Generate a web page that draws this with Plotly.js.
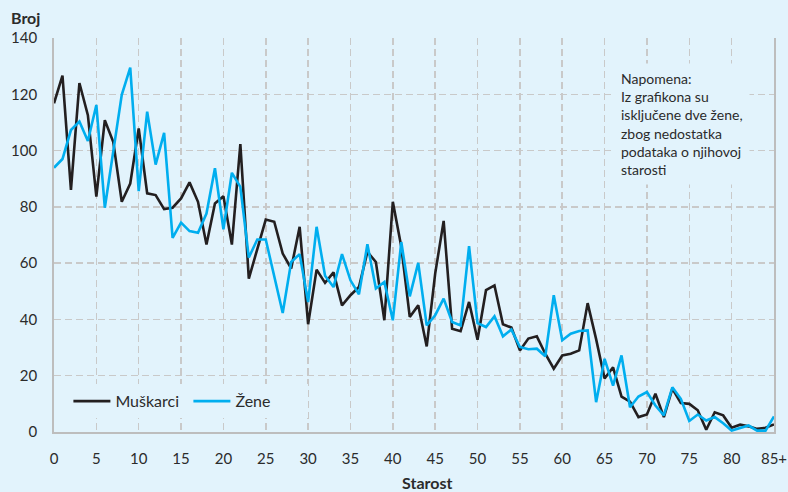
<!DOCTYPE html>
<html>
<head>
<meta charset="utf-8">
<script src="https://cdn.plot.ly/plotly-3.0.1.min.js"></script>
<style>
  html, body { margin: 0; padding: 0; background: #e2f3fc; }
  #chart { width: 788px; height: 492px; }
</style>
</head>
<body>
<div id="chart"></div>
<script>
// Age (x), 85 = "85+"
const ages = [0,1,2,3,4,5,6,7,8,9,10,11,12,13,14,15,16,17,18,19,20,21,22,23,24,25,26,27,28,29,
  30,31,32,33,34,35,36,37,38,39,40,41,42,43,44,45,46,47,48,49,50,51,52,53,54,55,56,57,58,59,
  60,61,62,63,64,65,66,67,68,69,70,71,72,73,74,75,76,77,78,79,80,81,82,83,84,85];

const muskarci = [116.8,126.6,86,124,112.6,83.6,110.8,103,81.8,88.3,107.9,84.8,84.2,79.2,79.7,83,88.7,81.8,66.6,81.2,
  83.8,66.6,102.3,54.5,65,75.5,74.7,63.4,58.1,72.9,38.3,57.7,53,56.7,45,48.6,51.5,64,60.4,39.7,
  81.8,65.8,40.9,45,30.4,56.3,75,36.7,35.8,46.2,32.8,50.4,52.1,38.3,37.1,29,33.2,34,27.8,22.5,
  27.2,27.8,29,45.8,33,19,23,12.6,10.8,5.3,6.2,13.6,5.3,15.4,10.3,10,7.7,0.8,7,5.9,
  1.5,2.6,2,1.1,1.5,2.7];

const zene = [93.9,97,107.3,110.3,103.4,116.2,79.7,100,119.8,129.5,85.6,113.8,95,106.3,69,74.4,71.4,70.8,77.6,93.7,
  72,92.1,87.1,62,68.4,68.4,55.1,42.3,60.4,63.2,46.2,72.9,55.5,51.5,63.2,53.9,48.9,66.7,51,53.3,
  39.7,67.5,48.2,60.1,37.9,41.5,47.4,39.1,37.9,66,38.7,37.3,41.1,34,36.4,30.2,29.4,29.6,26.9,48.6,
  32.6,34.9,35.9,36.1,10.6,26,16.5,27.2,8.8,12.6,14.2,9.4,5.9,15.9,11.8,3.9,6.2,4.1,5.3,3.1,
  0.5,1.5,2.3,0.5,0.5,5.5];

const xTickVals = [0,5,10,15,20,25,30,35,40,45,50,55,60,65,70,75,80,85];
const xTickText = ['0','5','10','15','20','25','30','35','40','45','50','55','60','65','70','75','80','85+'];
const yTickVals = [0,20,40,60,80,100,120,140];

const seriesNames = ['Muškarci', 'Žene'];
const noteText = 'Napomena:<br>Iz grafikona su<br>isključene dve žene,<br>zbog nedostatka<br>podataka o njihovoj<br>starosti';

const BG = '#e2f3fc';
const GRID = '#c9c9c9';
const TXT = '#2b2b2b';
const FONT = 'Lato, "Open Sans", sans-serif';

const traces = [
  { x: ages, y: muskarci, name: seriesNames[0], type: 'scatter', mode: 'lines',
    line: { color: '#231f20', width: 2.6 } },
  { x: ages, y: zene, name: seriesNames[1], type: 'scatter', mode: 'lines',
    line: { color: '#00aeef', width: 2.6 } }
];

const layout = {
  width: 788, height: 492,
  paper_bgcolor: BG, plot_bgcolor: BG,
  margin: { l: 54, r: 14, t: 38, b: 60, pad: 0 },
  font: { family: FONT, color: TXT, size: 15 },
  showlegend: true,
  legend: {
    orientation: 'h', x: 0.02, xanchor: 'left', y: 0.078, yanchor: 'middle',
    bgcolor: BG, borderwidth: 0,
    font: { family: FONT, size: 16, color: TXT },
    entrywidth: 68, entrywidthmode: 'pixels', itemwidth: 37
  },
  xaxis: {
    range: [0, 85], tickmode: 'array', tickvals: xTickVals, ticktext: xTickText,
    showgrid: true, gridcolor: GRID, gridwidth: 1.5, griddash: '7px,4px',
    zeroline: false, showline: true, linecolor: '#bdbdbd', linewidth: 1.8,
    ticks: '', ticklabelstandoff: 12,
    tickfont: { family: FONT, size: 15, color: TXT }
  },
  yaxis: {
    range: [0, 140], tickmode: 'array', tickvals: yTickVals,
    showgrid: true, gridcolor: GRID, gridwidth: 1.5, griddash: '7px,4px',
    zeroline: false, showline: true, mirror: true, linecolor: '#bdbdbd', linewidth: 1.8,
    ticks: '', ticklabelstandoff: 12,
    tickfont: { family: FONT, size: 15, color: TXT }
  },
  annotations: [
    { text: '<b>Broj</b>', xref: 'paper', yref: 'paper', x: -0.062, y: 1.052,
      xanchor: 'left', yanchor: 'middle', showarrow: false,
      font: { family: FONT, size: 16, color: TXT } },
    { text: '<b>Starost</b>', xref: 'paper', yref: 'paper', x: 0.518, y: -0.127,
      xanchor: 'center', yanchor: 'middle', showarrow: false,
      font: { family: FONT, size: 16, color: TXT } },
    { text: noteText, xref: 'paper', yref: 'paper', x: 0.778, y: 0.936,
      xanchor: 'left', yanchor: 'top', align: 'left', showarrow: false,
      bgcolor: BG, borderpad: 6,
      font: { family: FONT, size: 14, color: TXT } }
  ]
};

Plotly.newPlot('chart', traces, layout, { displayModeBar: false, staticPlot: true });
</script>
</body>
</html>
